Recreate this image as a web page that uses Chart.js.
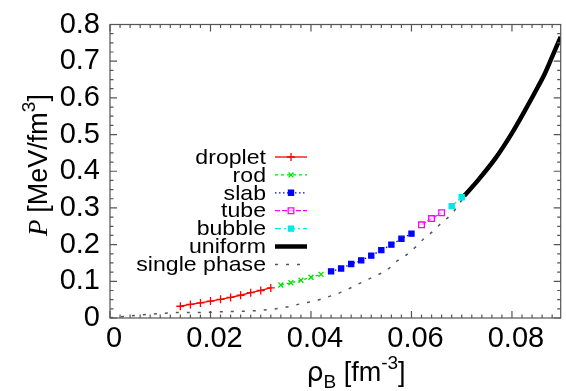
<!DOCTYPE html>
<html>
<head>
<meta charset="utf-8">
<script src="https://cdn.jsdelivr.net/npm/chart.js@4/dist/chart.umd.min.js"></script>
<style>
  html, body { margin: 0; padding: 0; background: #fff; }
  #wrap { width: 566px; height: 391px; }
</style>
</head>
<body>
<div id="wrap"><canvas id="eos" width="566" height="391"></canvas></div>
<script>
// values (rho_B in fm^-3, P in MeV/fm^3)
const dropletRho = [0.014, 0.016, 0.018, 0.020, 0.022, 0.024, 0.026, 0.028, 0.030, 0.032];
const dropletP   = [0.032, 0.037, 0.041, 0.046, 0.051, 0.056, 0.062, 0.069, 0.075, 0.082];
const rodRho = [0.034, 0.036, 0.038, 0.040, 0.042];
const rodP   = [0.090, 0.096, 0.103, 0.111, 0.119];
const slabRho = [0.044, 0.046, 0.048, 0.050, 0.052, 0.054, 0.056, 0.058, 0.060];
const slabP   = [0.127, 0.135, 0.147, 0.157, 0.170, 0.185, 0.200, 0.216, 0.230];
const tubeRho = [0.062, 0.064, 0.066];
const tubeP   = [0.254, 0.271, 0.287];
const bubbleRho = [0.068, 0.070];
const bubbleP   = [0.305, 0.329];
const uniformRho = [0.0705, 0.0734, 0.0767, 0.0800, 0.0826, 0.0852, 0.0866, 0.0879, 0.0897];
const uniformP   = [0.333, 0.378, 0.435, 0.504, 0.566, 0.631, 0.668, 0.709, 0.766];
const singleRho = [0.000, 0.002, 0.006, 0.010, 0.014, 0.018, 0.022, 0.026, 0.030, 0.034, 0.036, 0.038,
                   0.041, 0.043, 0.045, 0.047, 0.049, 0.051, 0.0535, 0.0555, 0.057, 0.059, 0.0607,
                   0.0623, 0.0639, 0.0655, 0.068, 0.0695, 0.0705];
const singleP   = [0.001, 0.003, 0.008, 0.012, 0.015, 0.015, 0.017, 0.018, 0.021, 0.027, 0.032, 0.039,
                   0.047, 0.056, 0.065, 0.076, 0.090, 0.103, 0.119, 0.135, 0.154, 0.172, 0.192,
                   0.214, 0.232, 0.253, 0.284, 0.311, 0.333];

const xTicks = [0, 0.02, 0.04, 0.06, 0.08];
const yTicks = [0, 0.1, 0.2, 0.3, 0.4, 0.5, 0.6, 0.7, 0.8];
const xMinorStep = 0.002;
const yMinorStep = 0.025;

const pts = (xs, ys) => xs.map((x, i) => ({ x: x, y: ys[i] }));

function series(label, xs, ys, color, dash, style, radius, width, fill) {
  return {
    label: label,
    data: pts(xs, ys),
    showLine: true,
    borderColor: color,
    backgroundColor: fill || color,
    borderWidth: width || 1.3,
    borderDash: dash,
    pointStyle: style,
    pointRadius: radius,
    pointBorderColor: color,
    pointBackgroundColor: fill || color,
    pointBorderWidth: 1.3,
    tension: 0
  };
}

const uniformSet = series('uniform', uniformRho, uniformP, '#000000', [], 'circle', 0, 4.5);
uniformSet.cubicInterpolationMode = 'monotone';
const singleSet = series('single phase', singleRho, singleP, '#555555', [3, 8], 'circle', 0, 1.5);
singleSet.cubicInterpolationMode = 'monotone';

const datasets = [
  series('droplet', dropletRho, dropletP, '#ff0000', [], 'cross', 4),
  series('rod', rodRho, rodP, '#00e000', [3, 3], 'crossRot', 3.5),
  series('slab', slabRho, slabP, '#0000ff', [1.5, 2.5], 'rect', 3.6),
  series('tube', tubeRho, tubeP, '#ff00ff', [5, 2], 'rect', 4, 1.3, 'rgba(255,255,255,0.6)'),
  series('bubble', bubbleRho, bubbleP, '#00e8e8', [6, 3, 2, 3], 'rect', 3.6),
  uniformSet,
  singleSet
];

function marker(ctx, style, r, x, y, color, fill) {
  if (!r) return;
  ctx.save();
  ctx.setLineDash([]);
  ctx.strokeStyle = color;
  ctx.fillStyle = fill;
  ctx.lineWidth = 1.3;
  ctx.beginPath();
  if (style === 'cross') {
    ctx.moveTo(x - r, y); ctx.lineTo(x + r, y);
    ctx.moveTo(x, y - r); ctx.lineTo(x, y + r);
    ctx.stroke();
  } else if (style === 'crossRot') {
    const d = r * Math.SQRT1_2;
    ctx.moveTo(x - d, y - d); ctx.lineTo(x + d, y + d);
    ctx.moveTo(x - d, y + d); ctx.lineTo(x + d, y - d);
    ctx.stroke();
  } else {
    const s = r * Math.SQRT1_2;
    ctx.rect(x - s, y - s, 2 * s, 2 * s);
    ctx.fill();
    ctx.stroke();
  }
  ctx.restore();
}

// frame, inward ticks, legend and axis titles in gnuplot style
const decor = {
  id: 'decor',
  afterDatasetsDraw(chart) {
    const ctx = chart.ctx;
    const a = chart.chartArea;
    const xs = chart.scales.x, ys = chart.scales.y;
    ctx.save();
    ctx.strokeStyle = '#555';
    ctx.lineWidth = 1.2;
    ctx.setLineDash([]);
    ctx.strokeRect(a.left, a.top, a.right - a.left, a.bottom - a.top);
    ctx.beginPath();
    for (let v = 0; v <= xs.max + 1e-9; v += xMinorStep) {
      const px = xs.getPixelForValue(v);
      const major = xTicks.some(t => Math.abs(t - v) < 1e-6);
      const len = major ? 7 : 3.5;
      ctx.moveTo(px, a.bottom); ctx.lineTo(px, a.bottom - len);
      ctx.moveTo(px, a.top); ctx.lineTo(px, a.top + len);
    }
    for (let v = 0; v <= ys.max + 1e-9; v += yMinorStep) {
      const py = ys.getPixelForValue(v);
      const major = yTicks.some(t => Math.abs(t - v) < 1e-6);
      const len = major ? 7 : 3.5;
      ctx.moveTo(a.left, py); ctx.lineTo(a.left + len, py);
      ctx.moveTo(a.right, py); ctx.lineTo(a.right - len, py);
    }
    ctx.stroke();

    // legend (text slightly widened like the original raster)
    ctx.font = '21px "Liberation Sans", Arial, sans-serif';
    ctx.textAlign = 'right';
    ctx.textBaseline = 'middle';
    chart.data.datasets.forEach((ds, i) => {
      const y = 157 + i * 17.9;
      ctx.save();
      ctx.fillStyle = '#000';
      ctx.scale(1.1, 1);
      ctx.fillText(ds.label, 266 / 1.1, y + 1);
      ctx.restore();
      ctx.save();
      ctx.strokeStyle = ds.borderColor;
      ctx.lineWidth = ds.borderWidth;
      ctx.setLineDash(ds.borderDash || []);
      ctx.beginPath();
      ctx.moveTo(275, y); ctx.lineTo(307, y);
      ctx.stroke();
      ctx.restore();
      marker(ctx, ds.pointStyle, ds.pointRadius, 291, y, ds.pointBorderColor, ds.pointBackgroundColor);
    });

    // y title: P [MeV/fm^3]
    ctx.fillStyle = '#000';
    ctx.textAlign = 'left';
    ctx.textBaseline = 'alphabetic';
    const fs = 27;
    const fItal = 'italic ' + fs + 'px "Liberation Serif", serif';
    const fSans = fs + 'px "Liberation Sans", Arial, sans-serif';
    const fSup = Math.round(fs * 0.72) + 'px "Liberation Sans", Arial, sans-serif';
    const parts = [
      { t: 'P ', f: fItal, dy: 0 },
      { t: '[MeV/fm', f: fSans, dy: 0 },
      { t: '3', f: fSup, dy: -12 },
      { t: ']', f: fSans, dy: 0 }
    ];
    let total = 0;
    parts.forEach(p => { ctx.font = p.f; p.w = ctx.measureText(p.t).width; total += p.w; });
    ctx.translate(47, 165);
    ctx.rotate(-Math.PI / 2);
    let cx = -total / 2;
    parts.forEach(p => { ctx.font = p.f; ctx.fillText(p.t, cx, p.dy); cx += p.w; });
    ctx.restore();

    // x title: rho_B [fm^-3]
    ctx.save();
    ctx.fillStyle = '#000';
    ctx.textBaseline = 'alphabetic';
    const xparts = [
      { t: 'ρ', f: fs + 'px "DejaVu Sans", sans-serif', dy: 0 },
      { t: 'B', f: fSup, dy: 7 },
      { t: ' [fm', f: fSans, dy: 0 },
      { t: '-3', f: fSup, dy: -12 },
      { t: ']', f: fSans, dy: 0 }
    ];
    total = 0;
    xparts.forEach(p => { ctx.font = p.f; p.w = ctx.measureText(p.t).width; total += p.w; });
    let x0 = 356 - total / 2;
    xparts.forEach(p => { ctx.font = p.f; ctx.fillText(p.t, x0, 381 + p.dy); x0 += p.w; });
    ctx.restore();
  }
};

const tickFont = { family: '"Liberation Sans", Arial, sans-serif', size: 29, lineHeight: 1 };

new Chart(document.getElementById('eos'), {
  type: 'scatter',
  data: { datasets: datasets },
  options: {
    responsive: false,
    devicePixelRatio: 1,
    animation: false,
    layout: { padding: { left: 0, top: 14, right: 0, bottom: 0 } },
    plugins: { legend: { display: false }, tooltip: { enabled: false } },
    scales: {
      x: {
        type: 'linear',
        min: 0,
        max: 0.0897,
        afterBuildTicks: s => { s.ticks = xTicks.map(v => ({ value: v })); },
        afterFit: s => { s.height = 73; },
        grid: { display: false, drawTicks: false },
        border: { display: false },
        ticks: {
          font: tickFont, color: '#000', padding: 6, labelOffset: 4, maxRotation: 0,
          callback: v => String(v)
        }
      },
      y: {
        type: 'linear',
        min: 0,
        max: 0.8,
        afterBuildTicks: s => { s.ticks = yTicks.map(v => ({ value: v })); },
        afterFit: s => { s.width = 110; },
        grid: { display: false, drawTicks: false },
        border: { display: false },
        ticks: {
          font: tickFont, color: '#000', padding: 10,
          callback: v => String(Math.round(v * 10) / 10)
        }
      }
    }
  },
  plugins: [decor]
});
</script>
</body>
</html>
